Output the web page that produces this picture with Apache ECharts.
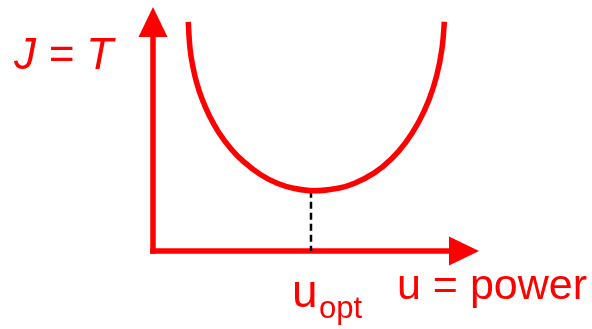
<!DOCTYPE html>
<html>
<head>
<meta charset="utf-8">
<script src="https://cdn.jsdelivr.net/npm/echarts@6/dist/echarts.min.js"></script>
<style>
  html, body { margin: 0; padding: 0; background: #fff; }
  #chart { width: 592px; height: 329px; }
</style>
</head>
<body>
<div id="chart"></div>
<script>
  // curve J(u) (arbitrary units 0..10)
  var uValues = [1.135, 1.190, 1.273, 1.400, 1.575, 1.809, 2.110, 2.498, 2.922, 3.466, 3.993, 4.520, 5.177,
                 5.951, 6.482, 7.116, 7.672, 8.122, 8.538, 8.880, 9.124, 9.292, 9.367];
  var jValues = [10.01, 8.84, 8.11, 7.37, 6.65, 5.92, 5.19, 4.48, 3.89, 3.33, 2.96, 2.74, 2.63,
                 2.74, 2.96, 3.41, 4.03, 4.73, 5.62, 6.63, 7.67, 8.84, 10.01];
  // optimum
  var uOpt = 5.08;
  var jMin = 2.63;
  // labels
  var yLabel = "J = T";
  var xLabel = "u = power";
  var optMain = "u";
  var optSub = "opt";

  var RED = "#ff0000";
  var FONT = "'Liberation Sans', Arial, sans-serif";

  var chart = echarts.init(document.getElementById("chart"));

  var curve = uValues.map(function (u, i) {
    return [u, jValues[i]];
  });

  function axis() {
    return {
      type: "value",
      min: 0,
      max: 10,
      splitLine: { show: false },
      axisTick: { show: false },
      axisLabel: { show: false },
      axisLine: {
        show: true,
        symbol: ["none", "triangle"],
        symbolSize: [29, 30],
        lineStyle: { color: RED, width: 5.5, cap: "square" },
      },
    };
  }

  chart.setOption({
    animation: false,
    grid: { left: 153, right: 128, top: 22, bottom: 78 },
    xAxis: axis(),
    yAxis: axis(),
    series: [
      {
        type: "line",
        data: curve,
        smooth: 0.35,
        showSymbol: false,
        clip: false,
        z: 3,
        lineStyle: { color: RED, width: 5.5 },
      },
      {
        type: "line",
        data: [[uOpt, jMin], [uOpt, 0]],
        showSymbol: false,
        clip: false,
        z: 2,
        lineStyle: { color: "#000", width: 2.5, type: [7, 4] },
      },
    ],
  });

  // text labels, the u_opt one placed under the optimum through the axis scale
  var p = chart.convertToPixel({ gridIndex: 0 }, [uOpt, 0]);
  chart.setOption({
    graphic: [
      {
        type: "text",
        x: 14,
        y: 57,
        style: { text: yLabel, font: "italic 44px " + FONT, fill: RED, verticalAlign: "middle" },
      },
      {
        type: "text",
        x: 397,
        y: 287,
        style: { text: xLabel, font: "43px " + FONT, fill: RED, verticalAlign: "middle" },
      },
      {
        type: "text",
        x: p[0] - 19,
        y: 294,
        style: { text: optMain, font: "46px " + FONT, fill: RED, verticalAlign: "middle" },
      },
      {
        type: "text",
        x: p[0] + 8,
        y: 309,
        style: { text: optSub, font: "31px " + FONT, fill: RED, verticalAlign: "middle" },
      },
    ],
  });
</script>
</body>
</html>
